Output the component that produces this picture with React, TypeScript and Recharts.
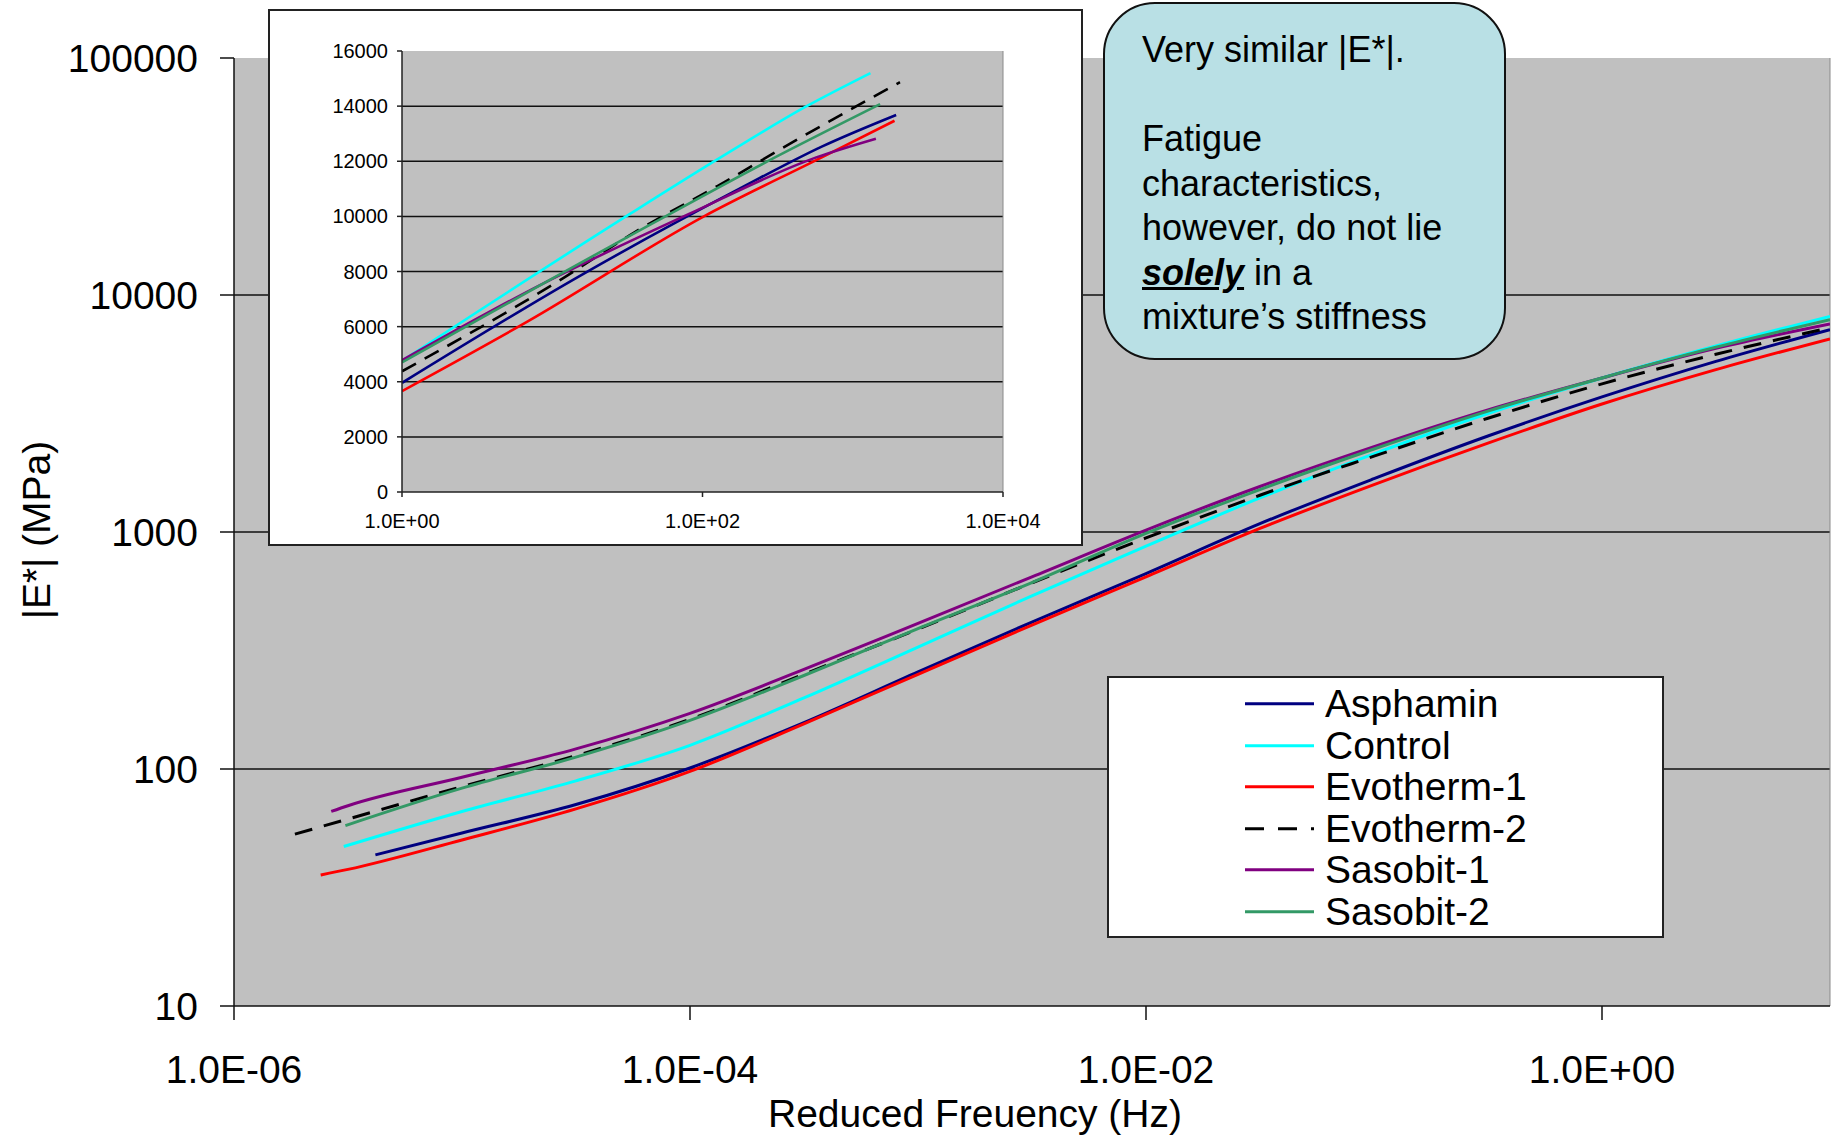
import React from 'react';
import { LineChart, Line, XAxis, YAxis, CartesianGrid, Legend, ReferenceLine } from 'recharts';

const FONT = '"Liberation Sans", Arial, Helvetica, sans-serif';

// ---------- main chart data (reduced frequency in Hz, |E*| in MPa) ----------
const asphaminFreq = [4.17e-6, 1e-5, 3.16e-5, 1e-4, 3.16e-4, 1e-3, 3.16e-3, 1e-2, 3.16e-2, 0.1, 0.316, 1, 3.16, 10];
const asphaminE = [43.4, 53.7, 70.8, 101, 157, 257, 417, 668, 1084, 1679, 2541, 3715, 5248, 7145];

const controlFreq = [3.03e-6, 1e-5, 3.16e-5, 1e-4, 3.16e-4, 1e-3, 3.16e-3, 1e-2, 3.16e-2, 0.1, 0.316, 1, 3.16, 10];
const controlE = [47.1, 66.2, 89.1, 125.9, 199.5, 327, 538, 871, 1393, 2138, 3162, 4467, 6095, 8128];

const evotherm1Freq = [2.4e-6, 3.16e-6, 1e-5, 3.16e-5, 1e-4, 3.16e-4, 1e-3, 3.16e-3, 1e-2, 3.16e-2, 0.1, 0.316, 1, 3.16, 10];
const evotherm1E = [35.7, 37.7, 50.2, 67.9, 97.7, 155, 251, 405, 647, 1035, 1585, 2371, 3467, 4842, 6531];

const evotherm2Freq = [1.85e-6, 3.16e-6, 1e-5, 3.16e-5, 1e-4, 3.16e-4, 1e-3, 3.16e-3, 1e-2, 3.16e-2, 0.1, 0.316, 1, 3.16, 10];
const evotherm2E = [53.1, 61.5, 84.3, 113.8, 162, 251, 389, 610, 944, 1429, 2089, 3020, 4217, 5623, 7278];

const sasobit1Freq = [2.67e-6, 3.16e-6, 1e-5, 3.16e-5, 1e-4, 3.16e-4, 1e-3, 3.16e-3, 1e-2, 3.16e-2, 0.1, 0.316, 1, 3.16, 10];
const sasobit1E = [66.2, 70, 92.3, 121.6, 171.8, 263, 412, 647, 1019, 1556, 2291, 3273, 4467, 5957, 7551];

const sasobit2Freq = [3.08e-6, 1e-5, 3.16e-5, 1e-4, 3.16e-4, 1e-3, 3.16e-3, 1e-2, 3.16e-2, 0.1, 0.316, 1, 3.16, 10];
const sasobit2E = [57.7, 83, 112.2, 160.3, 248, 391, 612, 986, 1510, 2239, 3236, 4467, 6026, 7870];

const MAIN_X_TICKS = [1e-6, 1e-4, 1e-2, 1];
const MAIN_Y_TICKS = [10, 100, 1000, 10000, 100000];
const MAIN_GRID_VALUES = [100, 1000, 10000];

// ---------- inset data (frequency in Hz, |E*| in MPa, linear) ----------
const insetAsphaminFreq = [1, 15.6, 183, 627, 1945];
const insetAsphaminE = [3960, 7870, 11050, 12540, 13680];

const insetControlFreq = [1, 32.7, 121.6, 490, 1312];
const insetControlE = [4760, 10080, 12020, 13990, 15200];

const insetEvotherm1Freq = [1, 6.87, 103, 627, 1897];
const insetEvotherm1E = [3660, 6190, 10010, 12150, 13470];

const insetEvotherm2Freq = [1, 11.2, 35.5, 126.5, 450.8, 2061];
const insetEvotherm2E = [4380, 7680, 9430, 11110, 12860, 14870];

const insetSasobit1Freq = [1, 8.11, 80.7, 578, 1426];
const insetSasobit1E = [4780, 7480, 10080, 12150, 12820];

const insetSasobit2Freq = [1, 49.2, 276, 1521];
const insetSasobit2E = [4700, 9820, 12020, 14070];

const INSET_X_TICKS = [1, 100, 10000];
const INSET_Y_TICKS = [0, 2000, 4000, 6000, 8000, 10000, 12000, 14000, 16000];
const INSET_GRID_VALUES = [2000, 4000, 6000, 8000, 10000, 12000, 14000];

// ---------- series styling ----------
const SERIES = [
  { name: 'Asphamin', color: '#000080', dash: undefined as string | undefined },
  { name: 'Control', color: '#00FFFF', dash: undefined },
  { name: 'Evotherm-1', color: '#FF0000', dash: undefined },
  { name: 'Evotherm-2', color: '#000000', dash: '18 12' },
  { name: 'Sasobit-1', color: '#800080', dash: undefined },
  { name: 'Sasobit-2', color: '#339966', dash: undefined },
];

const toPoints = (f: number[], e: number[]) => f.map((v, i) => ({ f: v, e: e[i] }));

const MAIN_DATA = [
  toPoints(asphaminFreq, asphaminE),
  toPoints(controlFreq, controlE),
  toPoints(evotherm1Freq, evotherm1E),
  toPoints(evotherm2Freq, evotherm2E),
  toPoints(sasobit1Freq, sasobit1E),
  toPoints(sasobit2Freq, sasobit2E),
];

const INSET_DATA = [
  toPoints(insetAsphaminFreq, insetAsphaminE),
  toPoints(insetControlFreq, insetControlE),
  toPoints(insetEvotherm1Freq, insetEvotherm1E),
  toPoints(insetEvotherm2Freq, insetEvotherm2E),
  toPoints(insetSasobit1Freq, insetSasobit1E),
  toPoints(insetSasobit2Freq, insetSasobit2E),
];

const expFormat = (v: number) => {
  const e = Math.round(Math.log10(v));
  return `1.0E${e < 0 ? '-' : '+'}${String(Math.abs(e)).padStart(2, '0')}`;
};

const XTitle = (props: any) => {
  const vb = props.viewBox || { x: 234, y: 1006, width: 1596, height: 130 };
  const cx = vb.x + vb.width / 2 - 57;
  const by = vb.y + vb.height - 9;
  return (
    <text x={cx} y={by} textAnchor="middle" fontFamily={FONT} fontSize={39} fill="#000">
      Reduced Freuency (Hz)
    </text>
  );
};

const YTitle = (props: any) => {
  const vb = props.viewBox || { x: 0, y: 58, width: 234, height: 948 };
  const cx = vb.x + 50;
  const cy = vb.y + vb.height / 2 - 2;
  return (
    <text x={cx} y={cy} transform={`rotate(-90 ${cx} ${cy})`} textAnchor="middle" fontFamily={FONT} fontSize={39} fill="#000">
      |E*| (MPa)
    </text>
  );
};

const LegendBox = () => (
  <div
    style={{
      width: 557,
      height: 262,
      boxSizing: 'border-box',
      border: '2px solid #222',
      background: '#fff',
      paddingTop: 5,
      fontFamily: FONT,
    }}
  >
    {SERIES.map((s) => (
      <div key={s.name} style={{ height: 41.6, display: 'flex', alignItems: 'center' }}>
        <svg width={216} height={41.6} style={{ flex: 'none' }}>
          <line
            x1={136}
            x2={205}
            y1={20.8}
            y2={20.8}
            stroke={s.color}
            strokeWidth={3}
            strokeDasharray={s.dash ? '19 14' : undefined}
          />
        </svg>
        <span style={{ fontSize: 39, color: '#000', lineHeight: '41.6px', whiteSpace: 'nowrap' }}>{s.name}</span>
      </div>
    ))}
  </div>
);

const InsetChart = () => (
  <div
    style={{
      position: 'absolute',
      left: 268,
      top: 9,
      width: 815,
      height: 537,
      boxSizing: 'border-box',
      border: '2px solid #222',
      background: '#fff',
    }}
  >
    <LineChart width={811} height={533} margin={{ top: 40, right: 78, left: 0, bottom: 0 }}>
      <CartesianGrid
        vertical={false}
        horizontalValues={INSET_GRID_VALUES}
        fill="#C0C0C0"
        fillOpacity={1}
        stroke="#111"
        strokeWidth={1.5}
      />
      <XAxis
        dataKey="f"
        type="number"
        scale="log"
        domain={[1, 10000]}
        allowDataOverflow
        ticks={INSET_X_TICKS}
        interval={0}
        tickFormatter={expFormat}
        height={52}
        tickSize={5}
        tickMargin={17}
        axisLine={{ stroke: '#222', strokeWidth: 1.5 }}
        tickLine={{ stroke: '#222', strokeWidth: 1.5 }}
        tick={{ fontSize: 20, fill: '#000', fontFamily: FONT }}
      />
      <YAxis
        dataKey="e"
        type="number"
        domain={[0, 16000]}
        ticks={INSET_Y_TICKS}
        interval={0}
        width={132}
        tickSize={5}
        tickMargin={9}
        axisLine={{ stroke: '#222', strokeWidth: 1.5 }}
        tickLine={{ stroke: '#222', strokeWidth: 1.5 }}
        tick={{ fontSize: 20, fill: '#000', fontFamily: FONT }}
      />
      <ReferenceLine x={10000} stroke="#8a8a8a" strokeWidth={1} />
      {SERIES.map((s, i) => (
        <Line
          key={s.name}
          data={INSET_DATA[i]}
          dataKey="e"
          name={s.name}
          type="monotone"
          stroke={s.color}
          strokeWidth={2.6}
          strokeDasharray={s.dash ? '16 10' : undefined}
          dot={false}
          activeDot={false}
          isAnimationActive={false}
        />
      ))}
    </LineChart>
  </div>
);

const Callout = () => (
  <div
    style={{
      position: 'absolute',
      left: 1103,
      top: 2,
      width: 403,
      height: 358,
      boxSizing: 'border-box',
      border: '2px solid #111',
      borderRadius: 52,
      background: '#B9E0E5',
      padding: '24px 0 0 37px',
      fontFamily: FONT,
      fontSize: 36,
      lineHeight: '44.5px',
      color: '#000',
    }}
  >
    <div>Very similar |E*|.</div>
    <div>&nbsp;</div>
    <div>Fatigue</div>
    <div>characteristics,</div>
    <div>however, do not lie</div>
    <div>
      <span style={{ fontWeight: 'bold', fontStyle: 'italic', textDecoration: 'underline' }}>solely</span> in a
    </div>
    <div>mixture’s stiffness</div>
  </div>
);

export default function App() {
  return (
    <div style={{ position: 'absolute', left: 0, top: 0, width: 1836, height: 1136, background: '#fff', overflow: 'hidden' }}>
      <LineChart width={1836} height={1136} margin={{ top: 58, right: 6, left: 0, bottom: 0 }}>
        <CartesianGrid
          vertical={false}
          horizontalValues={MAIN_GRID_VALUES}
          fill="#C0C0C0"
          fillOpacity={1}
          stroke="#111"
          strokeWidth={1.5}
        />
        <XAxis
          dataKey="f"
          type="number"
          scale="log"
          domain={[1e-6, 10]}
          allowDataOverflow
          ticks={MAIN_X_TICKS}
          interval={0}
          tickFormatter={expFormat}
          height={130}
          tickSize={14}
          tickMargin={35}
          axisLine={{ stroke: '#111', strokeWidth: 1.5 }}
          tickLine={{ stroke: '#111', strokeWidth: 1.5 }}
          tick={{ fontSize: 39, fill: '#000', fontFamily: FONT }}
          label={<XTitle />}
        />
        <YAxis
          dataKey="e"
          type="number"
          scale="log"
          domain={[10, 100000]}
          allowDataOverflow
          ticks={MAIN_Y_TICKS}
          interval={0}
          width={234}
          tickSize={14}
          tickMargin={22}
          axisLine={{ stroke: '#111', strokeWidth: 1.5 }}
          tickLine={{ stroke: '#111', strokeWidth: 1.5 }}
          tick={{ fontSize: 39, fill: '#000', fontFamily: FONT }}
          label={<YTitle />}
        />
        <ReferenceLine x={10} stroke="#8a8a8a" strokeWidth={1} />
        {SERIES.map((s, i) => (
          <Line
            key={s.name}
            data={MAIN_DATA[i]}
            dataKey="e"
            name={s.name}
            type="monotone"
            stroke={s.color}
            strokeWidth={3}
            strokeDasharray={s.dash}
            dot={false}
            activeDot={false}
            isAnimationActive={false}
          />
        ))}
        <Legend
          layout="vertical"
          align="center"
          verticalAlign="middle"
          width={557}
          height={262}
          wrapperStyle={{ left: 1107, top: 676, width: 557, height: 262 }}
          content={() => <LegendBox />}
        />
      </LineChart>
      <InsetChart />
      <Callout />
    </div>
  );
}
